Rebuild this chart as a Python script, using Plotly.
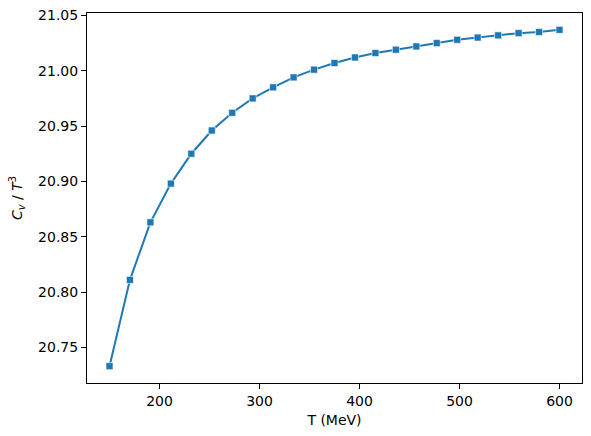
import plotly.graph_objects as go

T_MeV = [150.0, 170.45, 190.91, 211.36, 231.82, 252.27, 272.73, 293.18, 313.64, 334.09,
         354.55, 375.0, 395.45, 415.91, 436.36, 456.82, 477.27, 497.73, 518.18, 538.64,
         559.09, 579.55, 600.0]
Cv_over_T3 = [20.733, 20.811, 20.863, 20.898, 20.925, 20.946, 20.962, 20.975, 20.985, 20.994,
              21.001, 21.007, 21.012, 21.016, 21.019, 21.022, 21.025, 21.028, 21.030, 21.032,
              21.034, 21.035, 21.037]
x_ticks = [200, 300, 400, 500, 600]
y_ticks = [20.75, 20.80, 20.85, 20.90, 20.95, 21.00, 21.05]

color = "#1f77b4"
fig = go.Figure()
fig.add_trace(go.Scatter(
    x=T_MeV, y=Cv_over_T3, mode="lines+markers",
    line=dict(color=color, width=2),
    marker=dict(symbol="square", size=7, color=color,
                line=dict(color="rgba(255,255,255,0.6)", width=1)),
    showlegend=False,
))

font = dict(family="DejaVu Sans", size=14, color="black")
fig.update_layout(
    width=591, height=436,
    margin=dict(l=87, r=9, t=13, b=53, autoexpand=False),
    paper_bgcolor="white", plot_bgcolor="white",
    font=font,
)
fig.update_xaxes(
    range=[127.5, 622.5], tickvals=x_ticks, ticktext=[str(v) for v in x_ticks],
    showgrid=False, zeroline=False, automargin=False,
    showline=True, linecolor="black", linewidth=1, mirror=True,
    ticks="outside", ticklen=5, tickwidth=1, tickcolor="black",
    title=dict(text="T (MeV)", font=font, standoff=7),
)
fig.update_yaxes(
    range=[20.7178, 21.0522], tickvals=y_ticks, ticktext=[f"{v:.2f}" for v in y_ticks],
    showgrid=False, zeroline=False, automargin=False,
    showline=True, linecolor="black", linewidth=1, mirror=True,
    ticks="outside", ticklen=5, tickwidth=1, tickcolor="black",
    title=dict(text="<i>C</i><sub><i>v</i></sub> / <i>T</i><sup>3</sup>", font=font, standoff=12),
)
fig.write_html("out.html", config={"displayModeBar": False},
               post_script="document.body.style.margin='0';")
